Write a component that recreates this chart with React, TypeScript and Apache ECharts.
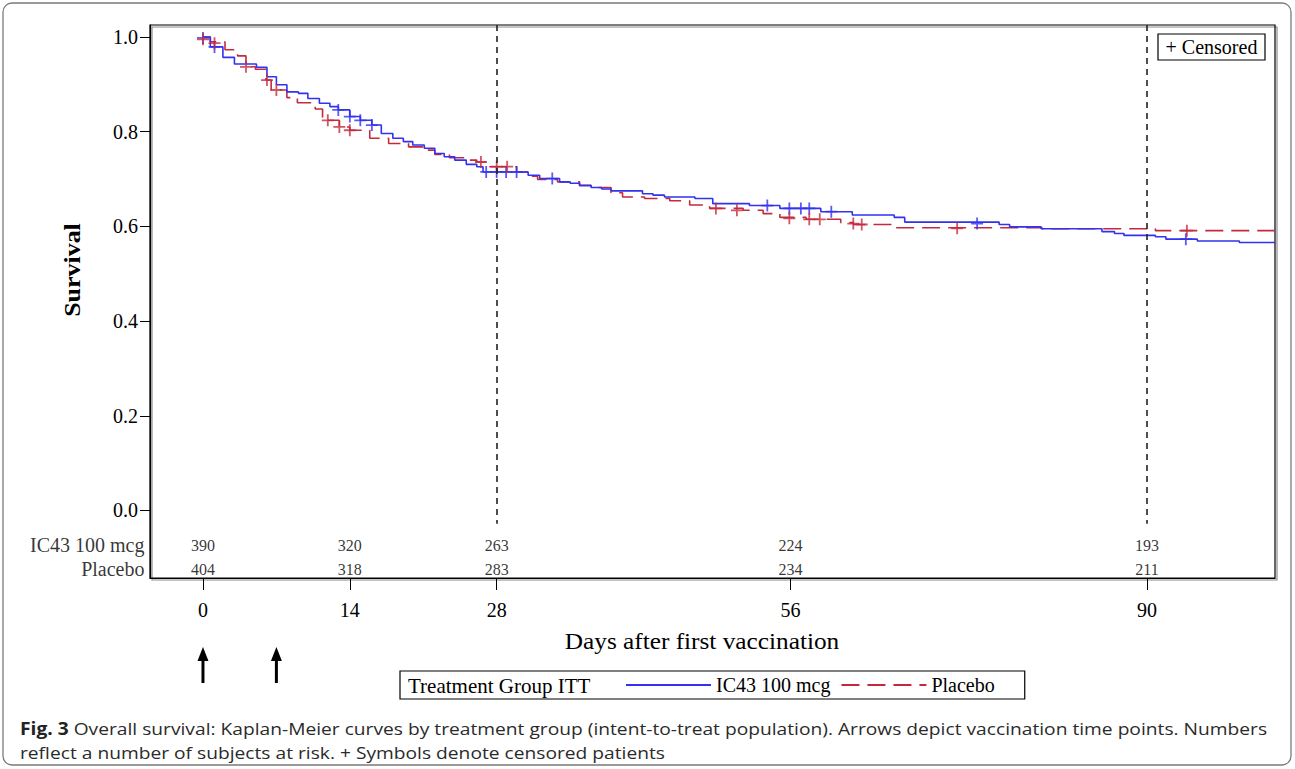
import React, { useEffect, useRef } from "react";
import * as echarts from "echarts";

// ---------------- data ----------------
const groupNames = ["IC43 100 mcg", "Placebo"];
const tickDays = [0, 14, 28, 56, 90];
const survivalTicks = [0, 0.2, 0.4, 0.6, 0.8, 1.0];
const atRiskIC43 = [390, 320, 263, 224, 193];
const atRiskPlacebo = [404, 318, 283, 234, 211];
const landmarkDays = [28, 90];
const vaccinationDays = [0, 7];

// Kaplan-Meier step points [day, survival] (value holds until next point)
const ic43Steps: [number, number][] = [
  [0, 1.0], [0.7, 0.979], [1.9, 0.957], [3.0, 0.943], [5.1, 0.936], [6.1, 0.916],
  [7.0, 0.899], [8.0, 0.884], [9.1, 0.881], [10.0, 0.87], [11.1, 0.86], [12.1, 0.853],
  [12.9, 0.846], [14.0, 0.832], [15.0, 0.824], [16.1, 0.814], [17.0, 0.796], [18.1, 0.786],
  [19.1, 0.779], [20.0, 0.772], [21.1, 0.765], [22.1, 0.754], [23.0, 0.747], [24.0, 0.74],
  [25.1, 0.731], [26.1, 0.726], [26.7, 0.715], [31.0, 0.708], [32.1, 0.701], [34.0, 0.694],
  [35.0, 0.691], [35.9, 0.686], [37.0, 0.682], [38.0, 0.679], [38.9, 0.675], [41.9, 0.669],
  [42.9, 0.666], [44.0, 0.662], [46.9, 0.659], [48.6, 0.648], [52.1, 0.644], [55.0, 0.638],
  [58.9, 0.631], [61.9, 0.624], [65.9, 0.619], [66.9, 0.609], [75.9, 0.604], [76.9, 0.599],
  [79.9, 0.595], [85.7, 0.589], [86.9, 0.585], [87.8, 0.581], [90.8, 0.578], [91.8, 0.573],
  [94.8, 0.569], [98.8, 0.566], [102.2, 0.566],
];

const placeboSteps: [number, number][] = [
  [0, 1.0], [0.7, 0.99], [2.1, 0.973], [3.3, 0.96], [4.1, 0.937], [5.0, 0.932],
  [6.0, 0.909], [6.5, 0.888], [8.0, 0.872], [9.0, 0.861], [10.7, 0.848], [11.4, 0.828],
  [11.9, 0.824], [13.0, 0.81], [14.0, 0.803], [15.9, 0.786], [17.7, 0.775], [19.6, 0.768],
  [21.1, 0.761], [22.1, 0.752], [23.5, 0.745], [25.1, 0.74], [26.1, 0.736], [27.0, 0.726],
  [29.9, 0.715], [31.0, 0.706], [31.9, 0.699], [33.8, 0.694], [35.9, 0.687], [37.0, 0.682],
  [38.9, 0.671], [40.0, 0.662], [42.1, 0.659], [44.5, 0.654], [46.4, 0.645], [48.3, 0.638],
  [51.5, 0.634], [53.4, 0.627], [55.0, 0.619], [57.5, 0.615], [60.8, 0.608], [62.0, 0.604],
  [65.9, 0.597], [80.0, 0.595], [90.8, 0.591], [102.2, 0.591],
];

const ic43Censored: [number, number][] = [
  [0, 0.998], [1.1, 0.979], [12.9, 0.846], [14.0, 0.832], [15.0, 0.824], [16.1, 0.814],
  [27.0, 0.715], [28.0, 0.715], [28.9, 0.715], [29.9, 0.715], [33.3, 0.701], [53.8, 0.644],
  [55.9, 0.638], [57.0, 0.638], [57.8, 0.638], [59.9, 0.631], [73.8, 0.606], [93.7, 0.573],
];

const placeboCensored: [number, number][] = [
  [0, 0.995], [1.1, 0.987], [4.1, 0.937], [6.1, 0.909], [7.0, 0.888], [11.9, 0.824],
  [13.0, 0.81], [14.0, 0.803], [26.5, 0.736], [28.0, 0.726], [29.0, 0.726], [48.9, 0.638],
  [50.9, 0.634], [55.9, 0.617], [57.8, 0.615], [58.8, 0.615], [62.0, 0.606], [62.8, 0.604],
  [71.9, 0.596], [93.8, 0.591],
];

// ---------------- layout / style ----------------
const X_MIN = -5.05;
const X_MAX = 102.2;
const Y_MIN = -0.1426;
const Y_MAX = 1.0253;
const ROW_Y = [-0.073, -0.124];
const BLUE = "#3232f0";
const RED = "#c42a3e";
const SERIF = "Liberation Serif";
const CROSS = "path://M5.1,0H6.9V5.1H12V6.9H6.9V12H5.1V6.9H0V5.1H5.1Z";

export default function App() {
  const ref = useRef<HTMLDivElement>(null);

  useEffect(() => {
    document.body.style.margin = "0";
    if (!ref.current) return;
    const chart = echarts.init(ref.current, undefined, { renderer: "svg" });

    const atRiskData: any[] = [];
    tickDays.forEach((d, i) => {
      atRiskData.push([d, ROW_Y[0], atRiskIC43[i]]);
      atRiskData.push([d, ROW_Y[1], atRiskPlacebo[i]]);
    });
    const rowLabelData = groupNames.map((n, i) => [X_MIN, ROW_Y[i], n]);

    const option: any = {
      animation: false,
      backgroundColor: "#ffffff",
      textStyle: { fontFamily: SERIF, color: "#000" },
      grid: {
        left: 150,
        top: 25,
        width: 1125,
        height: 553,
        show: true,
        borderColor: "#000",
        borderWidth: 1.2,
        backgroundColor: "transparent",
        shadowColor: "rgba(0,0,0,0.45)",
        shadowOffsetX: 2,
        shadowOffsetY: 2,
        shadowBlur: 1,
      },
      xAxis: {
        type: "value",
        min: X_MIN,
        max: X_MAX,
        axisLine: { show: true, onZero: false, lineStyle: { color: "#000", width: 1.2 } },
        axisTick: { show: true, customValues: tickDays, length: 12, lineStyle: { color: "#000" } },
        axisLabel: {
          customValues: tickDays,
          margin: 22,
          fontSize: 20,
          fontFamily: SERIF,
          color: "#000",
        },
        splitLine: { show: false },
      },
      yAxis: {
        type: "value",
        min: Y_MIN,
        max: Y_MAX,
        axisLine: { show: true, onZero: false, lineStyle: { color: "#000", width: 1.2 } },
        axisTick: { show: true, customValues: survivalTicks, length: 10, lineStyle: { color: "#000" } },
        axisLabel: {
          customValues: survivalTicks,
          margin: 12,
          fontSize: 20,
          fontFamily: SERIF,
          color: "#000",
          formatter: (v: number) => v.toFixed(1),
        },
        splitLine: { show: false },
      },
      legend: {
        data: groupNames,
        left: 400,
        top: 671,
        orient: "horizontal",
        padding: [4, 30, 4, 225],
        itemWidth: 85,
        itemHeight: 14,
        itemGap: 10,
        borderColor: "#000",
        borderWidth: 1.2,
        itemStyle: { opacity: 0 },
        textStyle: { fontFamily: SERIF, fontSize: 20, color: "#000" },
      },
      series: [
        {
          name: groupNames[0],
          type: "line",
          step: "end",
          symbol: "none",
          data: ic43Steps,
          color: BLUE,
          lineStyle: { color: BLUE, width: 1.6 },
          z: 3,
          markLine: {
            silent: true,
            symbol: ["none", "none"],
            label: { show: false },
            lineStyle: { color: "#222", type: [6, 5], width: 1.6 },
            data: landmarkDays.map((d) => [
              { coord: [d, Y_MAX] },
              { coord: [d, -0.028] },
            ]),
          },
        },
        {
          name: groupNames[1],
          type: "line",
          step: "end",
          symbol: "none",
          data: placeboSteps,
          color: RED,
          lineStyle: { color: RED, width: 1.6, type: [18, 8] },
          z: 2,
        },
        {
          name: groupNames[0] + " censored",
          type: "scatter",
          symbol: CROSS,
          symbolSize: 12,
          data: ic43Censored,
          itemStyle: { color: BLUE },
          z: 4,
        },
        {
          name: groupNames[1] + " censored",
          type: "scatter",
          symbol: CROSS,
          symbolSize: 12,
          data: placeboCensored,
          itemStyle: { color: RED },
          z: 4,
        },
        {
          name: "At risk",
          type: "scatter",
          symbolSize: 1,
          silent: true,
          itemStyle: { color: "rgba(0,0,0,0)" },
          data: atRiskData,
          label: {
            show: true,
            position: "inside",
            formatter: (p: any) => String(p.value[2]),
            fontFamily: SERIF,
            fontSize: 16,
            color: "#000",
          },
        },
        {
          name: "At risk rows",
          type: "scatter",
          symbolSize: 1,
          silent: true,
          itemStyle: { color: "rgba(0,0,0,0)" },
          data: rowLabelData,
          label: {
            show: true,
            position: "left",
            distance: 5,
            formatter: (p: any) => String(p.value[2]),
            fontFamily: SERIF,
            fontSize: 20,
            color: "#000",
          },
        },
      ],
    };
    chart.setOption(option);

    const arrows: any[] = vaccinationDays.map((d) => {
      const x = chart.convertToPixel({ xAxisIndex: 0 }, d) as number;
      return {
        type: "group",
        children: [
          {
            type: "line",
            shape: { x1: x, y1: 658, x2: x, y2: 683 },
            style: { stroke: "#000", lineWidth: 3 },
          },
          {
            type: "polygon",
            shape: { points: [[x, 647], [x - 5.5, 661], [x + 5.5, 661]] },
            style: { fill: "#000" },
          },
        ],
      };
    });

    chart.setOption({
      graphic: [
        {
          type: "rect",
          shape: { x: 3, y: 3, width: 1288, height: 762, r: 9 },
          style: { fill: "none", stroke: "#7a7a7a", lineWidth: 1.3 },
          silent: true,
        },
        {
          type: "text",
          x: 72,
          y: 270,
          rotation: Math.PI / 2,
          scaleX: 1.08,
          style: {
            text: "Survival",
            fontFamily: SERIF,
            fontSize: 24,
            fontWeight: "bold",
            fill: "#000",
            align: "center",
            verticalAlign: "middle",
          },
        },
        {
          type: "text",
          x: 702,
          y: 641,
          scaleX: 1.1,
          style: {
            text: "Days after first vaccination",
            fontFamily: SERIF,
            fontSize: 23,
            fill: "#000",
            align: "center",
            verticalAlign: "middle",
          },
        },
        {
          type: "group",
          x: 1158,
          y: 34,
          children: [
            {
              type: "rect",
              shape: { x: 0, y: 0, width: 107, height: 26 },
              style: { fill: "#fff", stroke: "#000", lineWidth: 1.2 },
            },
            {
              type: "text",
              x: 53.5,
              y: 13,
              style: {
                text: "+ Censored",
                fontFamily: SERIF,
                fontSize: 20,
                fill: "#000",
                align: "center",
                verticalAlign: "middle",
              },
            },
          ],
        },
        {
          type: "text",
          x: 408,
          y: 686,
          style: {
            text: "Treatment Group ITT",
            fontFamily: SERIF,
            fontSize: 21,
            fill: "#000",
            align: "left",
            verticalAlign: "middle",
          },
        },
        {
          type: "text",
          x: 20,
          y: 728,
          scaleX: 1.13,
          style: {
            text: "{b|Fig. 3} Overall survival: Kaplan-Meier curves by treatment group (intent-to-treat population). Arrows depict vaccination time points. Numbers",
            rich: {
              b: { fontFamily: "Open Sans", fontSize: 17, fontWeight: "bold", fill: "#222" },
            },
            fontFamily: "Open Sans",
            fontSize: 17,
            fill: "#2a2a2a",
            verticalAlign: "middle",
          },
        },
        {
          type: "text",
          x: 20,
          y: 752,
          scaleX: 1.13,
          style: {
            text: "reflect a number of subjects at risk. + Symbols denote censored patients",
            fontFamily: "Open Sans",
            fontSize: 17,
            fill: "#2a2a2a",
            verticalAlign: "middle",
          },
        },
        ...arrows,
      ],
    });

    return () => chart.dispose();
  }, []);

  return <div ref={ref} style={{ width: 1295, height: 769 }} />;
}
